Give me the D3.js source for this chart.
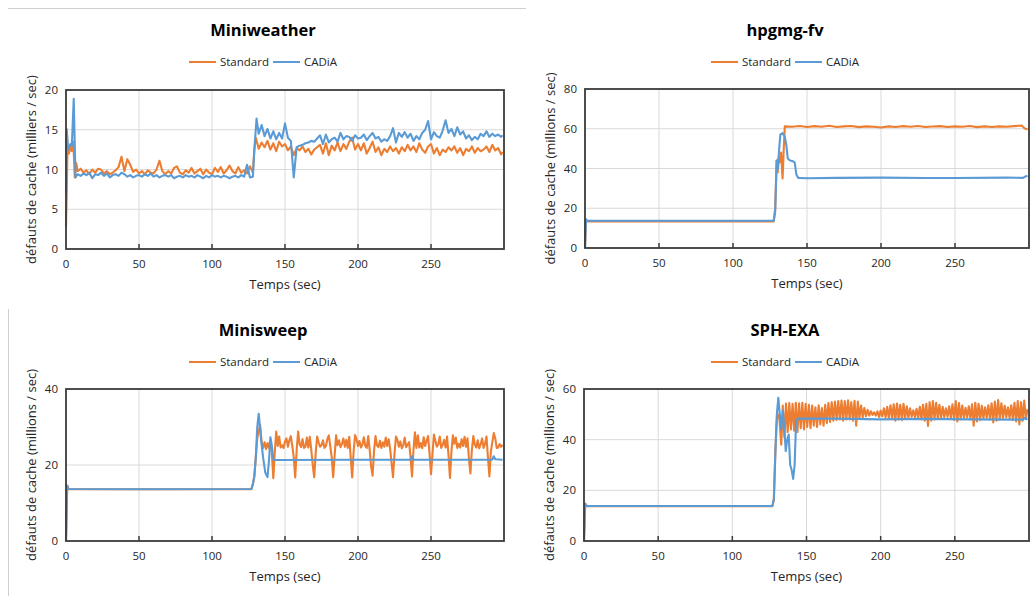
<!DOCTYPE html>
<html>
<head>
<meta charset="utf-8">
<script src="https://cdn.jsdelivr.net/npm/d3@7"></script>
<style>
body { margin: 0; background: #fff; }
svg { display: block; font-family: "Open Sans", sans-serif; }
</style>
</head>
<body>
<svg id="chart" width="1033" height="596"></svg>
<script>
// shared
const seriesNames = ["Standard", "CADiA"];
const xTicks = [0, 50, 100, 150, 200, 250];
const xLabel = "Temps (sec)";

// sample times for regularly spaced readings
const every = (t0, step, vals) => vals.map((v, i) => [t0 + i * step, v]);

// ---- Miniweather (milliers / sec)
const mwStandard = [
    [0, 2.8], [0.5, 7], [1, 12.5], [2, 12], [3, 13], [4, 12.3], [5, 13.5], [6, 9.0], [7, 10.8],
    ...every(8, 2, [9.8, 10.1, 9.6, 9.9, 9.4, 10.0, 9.6, 10.1, 10.0, 9.5, 9.8, 9.4, 9.6, 9.9, 10.3, 11.6, 9.8, 11.3, 10.6, 9.7,
        10.0, 9.5, 9.8, 9.4, 9.9, 9.6, 9.5, 10.0, 11.1, 9.8, 9.4, 9.8, 9.5, 10.2, 10.4, 9.6, 9.4, 9.9, 9.6, 10.2,
        9.5, 9.8, 10.1, 9.4, 10.0, 9.6, 9.4, 10.2, 9.7, 10.3, 9.5, 9.9, 10.5, 9.8, 9.5, 10.3, 9.6, 9.9, 9.5, 10.4]),
    [128, 9.6], [129, 12.5],
    ...every(130, 2, [14.0, 12.6, 13.4, 12.8, 13.6, 12.5, 13.3, 12.3, 13.5, 12.9, 13.2, 12.4, 12.9, 11.8, 12.7, 12.4, 12.9, 12.2, 12.6, 11.9,
        12.5, 12.8, 13.1, 12.0, 13.3, 11.8, 13.0, 12.4, 13.4, 12.3, 13.2, 12.6, 13.5, 14.0, 12.5, 13.2, 12.4, 13.3, 12.0, 12.7,
        13.5, 12.2, 12.8, 11.8, 12.6, 12.2, 12.9, 12.3, 12.7, 12.0, 12.8, 12.3, 13.1, 12.4, 12.9, 12.2, 13.3, 12.5, 12.1, 12.9,
        13.2, 12.0, 12.7, 11.8, 12.5, 12.2, 12.8, 12.4, 12.9, 12.1, 12.7, 11.8, 12.6, 12.3, 12.9, 12.1, 12.7, 12.3, 12.5, 12.9,
        12.2, 13.1, 12.4, 12.7, 11.9]),
    [299, 12.2]
];
const mwCadia = [
    [0, 7], [0.5, 15.1], [1.5, 12.5], [3, 13.2], [4, 13.0], [5.3, 18.9], [6.5, 9.0],
    ...every(8, 2, [9.4, 9.2, 9.5, 9.3, 9.6, 8.9, 9.4, 9.3, 9.6, 9.2, 9.5, 9.0, 9.3, 9.4, 9.2, 9.6, 9.4, 9.1, 9.3, 9.0,
        9.2, 9.3, 9.1, 9.4, 9.2, 9.5, 9.1, 9.3, 9.0, 9.2, 9.3, 9.1, 9.3, 8.9, 9.1, 9.2, 9.0, 9.3, 9.1, 9.2,
        9.0, 9.3, 9.1, 8.9, 9.2, 9.0, 9.3, 9.1, 9.2, 9.0, 9.2, 9.1, 8.9, 9.1, 9.2, 9.0, 9.3, 9.1, 10.6, 9.0]),
    [128, 9.1], [129, 12.5], [130.5, 16.4],
    ...every(132, 2, [14.5, 15.6, 14.2, 15.1, 13.9, 14.8, 13.8, 14.6, 13.9, 15.8, 14.0, 13.6, 9.0, 12.8, 13.0, 13.1, 13.3, 13.4, 13.6, 13.5,
        13.9, 14.3, 13.2, 14.4, 13.4, 13.8, 14.0, 13.5, 14.6, 13.8, 14.2, 14.1, 13.6, 14.3, 13.9, 14.0, 14.4, 13.7, 14.2, 14.6,
        13.9, 14.1, 13.5, 13.8, 13.6, 14.2, 15.2, 13.4, 14.6, 14.1, 14.7, 14.0, 14.5, 13.6, 14.2, 13.8, 14.6, 15.0, 16.1, 13.8,
        14.7, 14.2, 14.0, 14.9, 16.2, 14.6, 15.1, 14.2, 15.3, 14.4, 14.8, 13.9, 14.3, 13.7, 14.1, 13.8, 14.5, 14.2, 14.8, 14.1,
        14.5, 14.2, 14.4, 14.1]),
    [299, 14.3]
];

// ---- hpgmg-fv (millions / sec)
const hgStandard = [
    [0, 0], [0.6, 13.4], [2, 13.4], [127.5, 13.4], [128.5, 20], [129.5, 44], [130.2, 38], [130.8, 45.5], [131.5, 43],
    [132.5, 48], [133.5, 35], [134.3, 50], [135, 61.2], [140, 61.0], [145, 61.4], [150, 60.9], [155, 61.3], [160, 61.0],
    [165, 61.5], [170, 60.9], [175, 61.2], [180, 61.4], [185, 60.8], [190, 61.2], [195, 61.0], [200, 60.6], [205, 61.2],
    [210, 60.9], [215, 61.3], [220, 61.0], [225, 61.4], [230, 60.9], [235, 61.1], [240, 61.3], [245, 60.9], [250, 61.2],
    [255, 61.0], [260, 61.4], [265, 60.8], [270, 61.2], [275, 60.9], [280, 61.2], [285, 61.0], [290, 61.3], [295, 61.6],
    [297, 60.2], [299, 59.6]
];
const hgCadia = [
    [0, 0], [0.7, 14.5], [1.5, 13.7], [127.5, 13.7], [128.5, 18], [129.5, 44], [130.4, 40], [131.2, 50], [132, 57],
    [133.5, 57.8], [135, 56], [136, 52], [137, 45], [138.5, 44], [140, 43.8], [141.7, 43], [142.8, 37], [144, 35.3],
    [150, 35.1], [170, 35.3], [200, 35.4], [230, 35.2], [250, 35.2], [285, 35.4], [296, 35.3], [298, 36.2], [299, 36]
];

// ---- Minisweep (millions / sec)
const msStandard = [
    [0, 0], [0.8, 14.5], [1.8, 13.6], [127, 13.6], [128, 15], [129, 17], [130, 22], [131, 27], [132, 29],
    ...every(133, 1, [30.5, 26, 24.5, 26, 24.2, 25.8, 24.5, 26.5, 23, 16.5, 23.5, 28.8, 25, 27.5, 24.6, 25.2, 24.5, 26.2, 27, 24.8,
        26.5, 27.6, 25, 22, 16.7, 24, 28.8, 25.5, 24.7, 26.8, 24.5, 24.8, 27.2, 24.6, 27.4, 24, 20, 16.8, 23, 27.5,
        26, 24.8, 25.2, 26.5, 24.5, 25, 26.8, 27.8, 25, 22, 16.8, 22.5, 27.8, 25.2, 26.5, 24.7, 25.5, 27, 24.8, 26.6,
        24.5, 27.4, 22, 16.7, 23.5, 27.9, 26.8, 25, 26.3, 24.6, 25.4, 27.3, 25, 24.5, 27.6, 24, 19.5, 17.2, 23.8, 27.6,
        25.2, 24.7, 26.4, 24.5, 26, 24.8, 27.2, 25, 26.8, 24.3, 20.5, 16.8, 23, 27.5, 26.6, 24.8, 26.2, 24.4, 25.2, 27.2,
        24.7, 25.4, 26, 22, 17, 24, 28.6, 24.5, 27.8, 24.6, 25.8, 24.4, 27.3, 25, 26.4, 27.6, 23, 17.6, 22.8, 28,
        26.4, 24.8, 25.4, 27.5, 24.5, 25.3, 26.6, 24.6, 27.5, 22.5, 16.6, 23.5, 27.8, 25.6, 27.2, 24.5, 25.6, 24.6, 26.8, 25,
        27.4, 24.8, 27, 21.5, 17.8, 24, 27.6, 25.4, 24.6, 26.5, 24.4, 25.4, 27, 24.5, 25.5, 27.5, 22, 17, 23.5, 26,
        28.4, 27, 24.5, 24.6, 25.5, 24.8, 25.3])
];
const msCadia = [
    [0, 0], [0.8, 14.6], [1.8, 13.7], [50, 13.6], [127, 13.7], [128, 15], [129, 17], [130, 22], [131, 30], [132, 33.5],
    [133.5, 27], [135, 22], [136.5, 18], [138, 16.8], [139, 21], [140, 27.3], [141, 25], [142, 21.5], [143, 21.3],
    [200, 21.4], [236, 21.4], [237, 22.3], [238, 21.4], [292, 21.4], [293, 22.3], [294, 21.5], [299, 21.4]
];

// ---- SPH-EXA (millions / sec)
const sphStandard = [
    [0, 0], [0.8, 14.7], [2, 13.7], [127, 13.7], [128, 16.5], [129, 35], [130, 48], [131.5, 50], [133, 38],
    ...every(134, 1.1, [53.5, 41, 54.3, 43, 54.5, 44, 54.2, 43.5, 54.6, 43, 54.4, 44.5, 54.6, 44, 54.2, 45, 53.8, 44.5, 53.5, 45.5,
        52.8, 45, 53.6, 46, 52.5, 45.5, 53.8, 46.5, 54.5, 47, 54.8, 47.5, 55, 47.8, 55.2, 48, 55.4, 47.5, 55.2, 48,
        55.5, 48, 54.8, 47.5, 55.3, 45.5, 55, 48.5, 53.5, 48.8, 52.5, 49.2, 51.8, 49.5, 51.2, 49.8, 50.8, 49.5, 51.2, 49,
        51.5, 49.2, 52.4, 48.8, 53, 48.5, 53.6, 48.2, 54, 47.5, 54.3, 48, 53.8, 47.8, 54.2, 48.3, 53.2, 48.6, 52.4, 49,
        51.6, 48.8, 52.2, 48.5, 53, 48, 53.8, 47.5, 54.2, 45.4, 54.8, 47.5, 55.2, 48, 54.6, 48.2, 53.8, 48.5, 53, 48.8,
        52.4, 49, 53.2, 48.5, 54, 47.8, 55.2, 47.2, 54.5, 48, 53.5, 48.5, 52.6, 48.8, 53.2, 48, 54, 45.5, 54.6, 47.2,
        54.2, 47.8, 53.4, 48.4, 52.8, 48.6, 53.6, 48, 54.4, 46.8, 55, 47.5, 55.6, 48, 54.4, 48.5, 53.4, 48.8, 52.8, 48.5,
        53.6, 47.8, 54.6, 47.2, 55.2, 46, 54.8, 47.5, 55.4, 48.2, 52])
];
const sphCadia = [
    [0, 0], [0.8, 14.8], [2, 13.8], [127, 13.8], [128, 16.5], [129, 35], [130, 50], [131, 56.5], [132, 50], [133, 44],
    [134, 51.5], [135, 45], [136, 35.5], [137, 40], [138, 42], [139, 30], [140, 28], [141, 24.5], [142, 30], [143, 47.5],
    [144, 48.3], [170, 48.3], [200, 48], [230, 48.2], [260, 48], [296, 47.9], [297, 48.6], [298, 48.2], [299, 48.1]
];

const colors = { Standard: "#ED7D31", CADiA: "#5B9BD5" };
const textColor = "#262626";

const panels = [
    { title: "Miniweather", yLabel: "défauts de cache (milliers / sec)", yTicks: [0, 5, 10, 15, 20],
      series: [mwStandard, mwCadia], cx: 263, top: 0, plot: { left: 66, right: 504, top: 90, bottom: 249 } },
    { title: "hpgmg-fv", yLabel: "défauts de cache (millions / sec)", yTicks: [0, 20, 40, 60, 80],
      series: [hgStandard, hgCadia], cx: 785, top: 0, plot: { left: 585, right: 1029, top: 89, bottom: 248 } },
    { title: "Minisweep", yLabel: "défauts de cache (millions / sec)", yTicks: [0, 20, 40],
      series: [msStandard, msCadia], cx: 263, top: 300, plot: { left: 66, right: 504, top: 389, bottom: 541 } },
    { title: "SPH-EXA", yLabel: "défauts de cache (millions / sec)", yTicks: [0, 20, 40, 60],
      series: [sphStandard, sphCadia], cx: 785, top: 300, plot: { left: 584, right: 1029, top: 389, bottom: 541 } }
];

const svg = d3.select("#chart");

// light frame edges left from the page crop
svg.append("line").attr("x1", 8).attr("x2", 526).attr("y1", 8.5).attr("y2", 8.5).attr("stroke", "#cfcfcf");
svg.append("line").attr("x1", 8.5).attr("x2", 8.5).attr("y1", 309).attr("y2", 596).attr("stroke", "#cfcfcf");

const drawPanel = (p, idx) => {
    const g = svg.append("g").attr("class", "panel-" + idx);
    const r = p.plot;
    const x = d3.scaleLinear().domain([0, 300]).range([r.left, r.right]);
    const y = d3.scaleLinear().domain([0, d3.max(p.yTicks)]).range([r.bottom, r.top]);

    // gridlines
    g.selectAll(".vgrid").data(xTicks.slice(1)).enter().append("line")
        .attr("x1", d => x(d)).attr("x2", d => x(d))
        .attr("y1", r.top).attr("y2", r.bottom)
        .attr("stroke", "#d9d9d9").attr("stroke-width", 1);
    g.selectAll(".hgrid").data(p.yTicks.slice(1, -1)).enter().append("line")
        .attr("x1", r.left).attr("x2", r.right)
        .attr("y1", d => y(d)).attr("y2", d => y(d))
        .attr("stroke", "#d9d9d9").attr("stroke-width", 1);

    // lines, Standard first, CADiA on top
    const line = d3.line().x(d => x(d[0])).y(d => y(d[1]));
    p.series.forEach((s, i) => {
        g.append("path")
            .datum(s)
            .attr("fill", "none")
            .attr("stroke", colors[seriesNames[i]])
            .attr("stroke-width", 2.1)
            .attr("stroke-linejoin", "round")
            .attr("d", line);
    });

    // frame + inward x ticks
    g.append("rect")
        .attr("x", r.left).attr("y", r.top)
        .attr("width", r.right - r.left).attr("height", r.bottom - r.top)
        .attr("fill", "none").attr("stroke", "#3b3b3b").attr("stroke-width", 1.8);
    g.selectAll(".xtick").data(xTicks.slice(1)).enter().append("line")
        .attr("x1", d => x(d)).attr("x2", d => x(d))
        .attr("y1", r.bottom).attr("y2", r.bottom - 5)
        .attr("stroke", "#3b3b3b").attr("stroke-width", 1.5);

    // tick labels
    g.selectAll(".xlab").data(xTicks).enter().append("text")
        .attr("x", d => x(d)).attr("y", r.bottom + 19)
        .attr("text-anchor", "middle").attr("font-size", 11.5).attr("fill", textColor)
        .text(d => d);
    g.selectAll(".ylab").data(p.yTicks).enter().append("text")
        .attr("x", r.left - 8).attr("y", d => y(d)).attr("dy", "0.35em")
        .attr("text-anchor", "end").attr("font-size", 11.5).attr("fill", textColor)
        .text(d => d);

    // axis titles
    g.append("text")
        .attr("x", (r.left + r.right) / 2).attr("y", r.bottom + 40)
        .attr("text-anchor", "middle").attr("font-size", 13).attr("fill", textColor)
        .text(xLabel);
    g.append("text")
        .attr("transform", `translate(${r.left - 30},${(r.top + r.bottom) / 2}) rotate(-90)`)
        .attr("text-anchor", "middle").attr("font-size", 13).attr("fill", textColor)
        .text(p.yLabel);

    // title
    g.append("text")
        .attr("x", p.cx).attr("y", p.top + 36)
        .attr("text-anchor", "middle").attr("font-size", 16.5).attr("font-weight", "bold").attr("fill", "#000")
        .text(p.title);

    // legend, centred on the chart
    const lg = g.append("g");
    let cursor = 0;
    seriesNames.forEach(name => {
        lg.append("line")
            .attr("x1", cursor).attr("x2", cursor + 27).attr("y1", 0).attr("y2", 0)
            .attr("stroke", colors[name]).attr("stroke-width", 2);
        cursor += 31;
        const t = lg.append("text")
            .attr("x", cursor).attr("y", 0).attr("dy", "0.35em")
            .attr("font-size", 11.5).attr("fill", textColor)
            .text(name);
        cursor += t.node().getComputedTextLength() + 4;
    });
    lg.attr("transform", `translate(${p.cx - (cursor - 4) / 2},${p.top + 62})`);
};

panels.forEach(drawPanel);
</script>
</body>
</html>
